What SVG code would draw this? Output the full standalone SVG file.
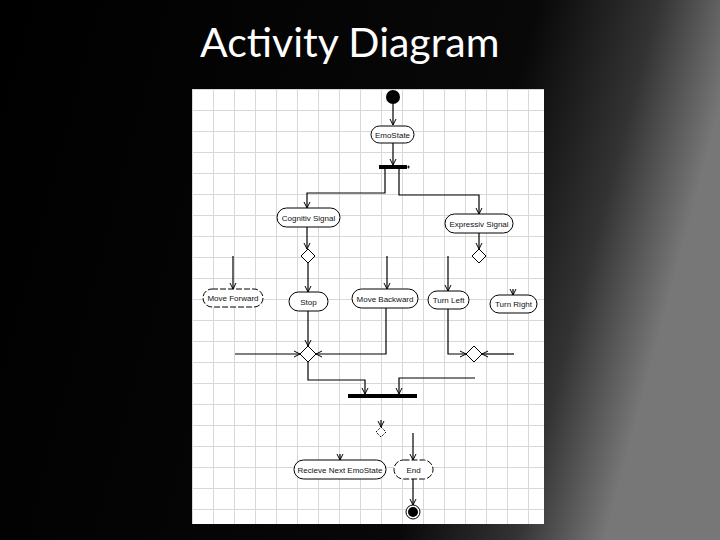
<svg xmlns="http://www.w3.org/2000/svg" width="720" height="540" viewBox="0 0 720 540">
<defs>
<linearGradient id="bg" x1="0" y1="0" x2="1" y2="0.2">
<stop offset="0" stop-color="#000"/><stop offset="0.72" stop-color="#080808"/><stop offset="0.88" stop-color="#333"/><stop offset="1" stop-color="#777"/>
</linearGradient>
<pattern id="grid" x="192" y="89" width="21" height="21" patternUnits="userSpaceOnUse">
<path d="M0 0.5H21M0.5 0V21" fill="none" stroke="#d8d8d8" stroke-width="1"/>
</pattern>
<marker id="a" markerWidth="10" markerHeight="10" refX="7" refY="5" orient="auto" markerUnits="userSpaceOnUse" viewBox="0 0 10 10">
<path d="M1 2L7 5L1 8" fill="none" stroke="#000" stroke-width="1"/>
</marker>
<style>
.n rect{fill:#fff;stroke:#000;stroke-width:1}
.n text{font-family:"Liberation Sans",Arial,sans-serif;font-size:8px;text-anchor:middle;fill:#111}
.c path{fill:none;stroke:#000;stroke-width:1.2}
.d{fill:#fff;stroke:#000;stroke-width:1}
</style>
</defs>
<rect width="720" height="540" fill="url(#bg)"/>
<text x="200" y="57" font-family="Lato,'Open Sans',sans-serif" font-size="41" fill="#fff">Activity Diagram</text>
<rect x="192" y="89" width="352" height="435" fill="#fff"/>
<rect x="192" y="89" width="352" height="435" fill="url(#grid)"/>
<g class="c" id="connectors">
<path d="M393 104V125" marker-end="url(#a)"/>
<path d="M393 143V165" marker-end="url(#a)"/>
<path d="M385 169V193H307V208" marker-end="url(#a)"/>
<path d="M399 169V195H479V214" marker-end="url(#a)"/>
<path d="M307 227V249" marker-end="url(#a)"/>
<path d="M479 233V249" marker-end="url(#a)"/>
<path d="M233 256V289" marker-end="url(#a)"/>
<path d="M308 263V292" marker-end="url(#a)"/>
<path d="M387 256V289" marker-end="url(#a)"/>
<path d="M448 256V291" marker-end="url(#a)"/>
<path d="M513 289V295" marker-end="url(#a)"/>
<path d="M308 311V346" marker-end="url(#a)"/>
<path d="M235 354H300" marker-end="url(#a)"/>
<path d="M386 308V354H316" marker-end="url(#a)"/>
<path d="M448 309V354H466" marker-end="url(#a)"/>
<path d="M514 354H482" marker-end="url(#a)"/>
<path d="M308 362V380H365V394" marker-end="url(#a)"/>
<path d="M475 378H399V394" marker-end="url(#a)"/>
<path d="M381 420V427" marker-end="url(#a)"/>
<path d="M340 454V460" marker-end="url(#a)"/>
<path d="M413 433V460" marker-end="url(#a)"/>
<path d="M413 479V505" marker-end="url(#a)"/>
</g>
<g id="start"><circle cx="393" cy="97" r="7" fill="#000"/></g>
<g id="emostate" class="n"><rect x="371" y="126" width="43" height="17" rx="8.5"/><text x="392.5" y="137.5">EmoState</text></g>
<g id="fork"><rect x="379" y="165" width="28" height="4" fill="#000"/><path d="M407 167H410M408.5 165.5V168.5" stroke="#000" stroke-width="0.8"/></g>
<g id="cognitiv" class="n"><rect x="277" y="208" width="63" height="19" rx="9.5"/><text x="308.5" y="220.5">Cognitiv Signal</text></g>
<g id="expressiv" class="n"><rect x="445" y="214" width="68" height="19" rx="9.5"/><text x="479" y="226.5">Expressiv Signal</text></g>
<g id="dec1"><path class="d" d="M308 249L315 256L308 263L301 256Z"/></g>
<g id="dec2"><path class="d" d="M479 249L486 256L479 263L472 256Z"/></g>
<g id="moveforward" class="n"><rect x="203" y="289" width="60" height="18" rx="9" stroke-dasharray="6 2"/><text x="233" y="300.5">Move Forward</text></g>
<g id="stop" class="n"><rect x="289" y="292" width="39" height="19" rx="9.5"/><text x="308.5" y="304.5">Stop</text></g>
<g id="movebackward" class="n"><rect x="352" y="289" width="66" height="19" rx="9.5"/><text x="385" y="301.5">Move Backward</text></g>
<g id="turnleft" class="n"><rect x="428" y="291" width="41" height="18" rx="9"/><text x="448.5" y="303">Turn Left</text></g>
<g id="turnright" class="n"><rect x="490" y="295" width="47" height="18" rx="9"/><text x="513.5" y="307">Turn Right</text></g>
<g id="merge1"><path class="d" d="M308 346L316 354L308 362L300 354Z"/></g>
<g id="merge2"><path class="d" d="M474 346L482 354L474 362L466 354Z"/></g>
<g id="join"><rect x="348" y="394" width="69" height="4" fill="#000"/></g>
<g id="dec3"><path class="d" stroke-dasharray="2 1.5" d="M381 427L386 432L381 437L376 432Z"/></g>
<g id="recieve" class="n"><rect x="294" y="460" width="92" height="19" rx="9.5"/><text x="340" y="472.5">Recieve Next EmoState</text></g>
<g id="end" class="n"><rect x="394" y="460" width="39" height="19" rx="9.5" stroke-dasharray="6 2"/><text x="413.5" y="472.5">End</text></g>
<g id="final"><circle cx="413" cy="512" r="7" fill="#fff" stroke="#000"/><circle cx="413" cy="512" r="5" fill="#000"/></g>
</svg>
